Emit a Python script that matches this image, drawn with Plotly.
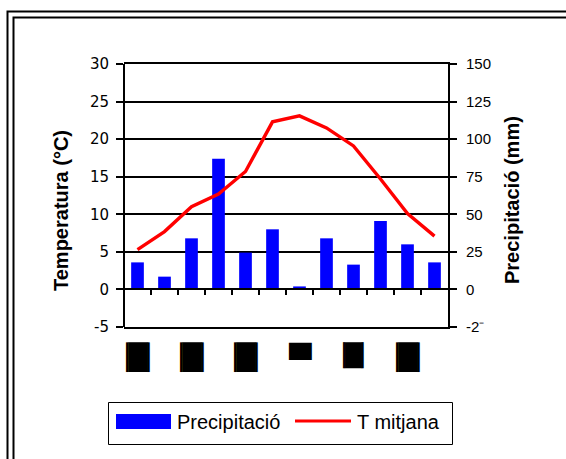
import plotly.graph_objects as go

# ---------------- data ----------------
months = list(range(12))
month_labels = ["▕█▏", "", "▕█▏", "", "▕█▏", "", "▀", "", "▕█▏", "", "▕█▏", ""]
temperature = [5.3, 7.7, 11.0, 12.7, 15.7, 22.3, 23.1, 21.5, 19.1, 14.7, 10.1, 7.1]
precipitation = [18, 8.5, 34, 87, 24.5, 40, 2, 34, 16.5, 45.5, 30, 18]
temp_ticks = [-5, 0, 5, 10, 15, 20, 25, 30]
temp_ticktext = ["-5", "0", "5", "10", "15", "20", "25", "30"]
precip_ticks = [-25, 0, 25, 50, 75, 100, 125, 150]
precip_ticktext = ["-2\u207b", "0", "25", "50", "75", "100", "125", "150"]
bar_name = "Precipitació"
line_name = "T mitjana"
left_title = "Temperatura (°C)"
right_title = "Precipitació (mm)"

# ---------------- layout geometry (pixels) ----------------
W, H = 566, 459
L, R, T, B = 124, 448, 64, 327
label_sizes = [25, 0, 25, 0, 25, 0, 29, 0, 22, 0, 25, 0]


def px_x(px):
    return (px - L) / (R - L)


def px_y(py):
    return (B - py) / (B - T)


FONT = "Liberation Sans, Arial, sans-serif"

fig = go.Figure()
fig.add_trace(go.Bar(
    x=months, y=precipitation, name=bar_name,
    marker=dict(color="#0000FF", line=dict(width=0)),
    width=0.47, xaxis="x", yaxis="y", showlegend=False,
))
fig.add_trace(go.Scatter(
    x=months, y=temperature, name=line_name, mode="lines",
    line=dict(color="#FF0000", width=3.4),
    xaxis="x2", yaxis="y2", showlegend=False,
))

xr = [-0.5, 11.5]
zero_pos = (0 - temp_ticks[0]) / (temp_ticks[-1] - temp_ticks[0])

fig.update_layout(
    width=W, height=H,
    margin=dict(l=L, r=W - R, t=T, b=H - B),
    paper_bgcolor="white", plot_bgcolor="white",
    showlegend=False,
    font=dict(family=FONT, color="black"),
    xaxis=dict(range=xr, showline=True, mirror=True, linecolor="black", linewidth=2,
               showticklabels=False, ticks="", showgrid=False, zeroline=False),
    xaxis2=dict(range=xr, overlaying="x", anchor="free", position=zero_pos,
                showline=True, linecolor="black", linewidth=2,
                ticks="outside", ticklen=5, tickwidth=2, tickcolor="black",
                tickvals=[m + 0.5 for m in months[:-1]],
                showticklabels=False, showgrid=False, zeroline=False),
    yaxis=dict(range=[precip_ticks[0], precip_ticks[-1]], side="right",
               tickvals=precip_ticks, ticktext=precip_ticktext,
               showline=True, linecolor="black", linewidth=2,
               ticks="outside", ticklen=7, tickwidth=2, tickcolor="black",
               showgrid=True, gridcolor="black", gridwidth=2, zeroline=False,
               tickfont=dict(size=15, family=FONT), ticklabelstandoff=6),
    yaxis2=dict(range=[temp_ticks[0], temp_ticks[-1]], side="left", overlaying="y",
                anchor="free", position=0,
                tickvals=temp_ticks, ticktext=temp_ticktext,
                showline=True, linecolor="black", linewidth=2,
                ticks="outside", ticklen=7, tickwidth=2, tickcolor="black",
                showgrid=False, zeroline=False,
                tickfont=dict(size=15, family="DejaVu Sans, " + FONT), ticklabelstandoff=4),
)

shapes = []
annotations = []

# double frame
for c in (7.5, 13.5):
    shapes.append(dict(type="rect", xref="paper", yref="paper",
                       x0=px_x(c), x1=px_x(W + 200), y0=px_y(c + 4), y1=px_y(H + 200),
                       line=dict(color="black", width=2), fillcolor="rgba(0,0,0,0)"))

# month labels (blocks)
for m, lab, sz in zip(months, month_labels, label_sizes):
    if lab:
        annotations.append(dict(x=m, y=px_y(340), xref="x", yref="paper",
                                text=lab, showarrow=False, xanchor="center", yanchor="top",
                                font=dict(family="DejaVu Sans", size=sz, color="black")))

# axis titles
annotations.append(dict(x=px_x(61), y=px_y(211), xref="paper", yref="paper",
                        text="<b>" + left_title + "</b>", textangle=-90, showarrow=False,
                        xanchor="center", yanchor="middle",
                        font=dict(family=FONT, size=20, color="black")))
annotations.append(dict(x=px_x(512), y=px_y(200), xref="paper", yref="paper",
                        text="<b>" + right_title + "</b>", textangle=-90, showarrow=False,
                        xanchor="center", yanchor="middle",
                        font=dict(family=FONT, size=20, color="black")))

# custom legend
shapes.append(dict(type="rect", xref="paper", yref="paper",
                   x0=px_x(108.5), x1=px_x(452.5), y0=px_y(402.5), y1=px_y(444.5),
                   line=dict(color="black", width=1), fillcolor="white"))
shapes.append(dict(type="rect", xref="paper", yref="paper",
                   x0=px_x(116), x1=px_x(171), y0=px_y(414), y1=px_y(429),
                   line=dict(width=0), fillcolor="#0000FF"))
shapes.append(dict(type="line", xref="paper", yref="paper",
                   x0=px_x(295), x1=px_x(351), y0=px_y(421), y1=px_y(421),
                   line=dict(color="#FF0000", width=3)))
annotations.append(dict(x=px_x(175), y=px_y(421.5), xref="paper", yref="paper",
                        text=bar_name, showarrow=False, xanchor="left", yanchor="middle",
                        font=dict(family=FONT, size=20, color="black")))
annotations.append(dict(x=px_x(355), y=px_y(421.5), xref="paper", yref="paper",
                        text=line_name, showarrow=False, xanchor="left", yanchor="middle",
                        font=dict(family=FONT, size=20, color="black")))

fig.update_layout(shapes=shapes, annotations=annotations)
fig.write_html("out.html")
